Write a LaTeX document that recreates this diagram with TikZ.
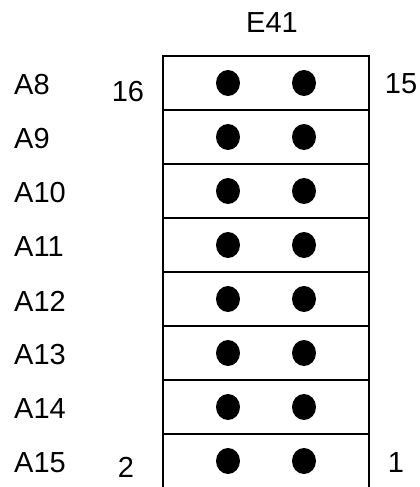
\documentclass[tikz,border=0pt]{standalone}
\usepackage{fontspec}
\setmainfont{Liberation Sans}
\begin{document}
\begin{tikzpicture}[x=1pt,y=-1pt,
  lbl/.style={font=\fontsize{29}{34}\selectfont, inner sep=0pt},
  frame/.style={line width=2pt}]
\useasboundingbox (0,0) rectangle (420,487);
% frame
\draw[frame] (163,487) -- (163,56) -- (369,56) -- (369,487);
\foreach \k in {1,...,7} {
  \draw[frame] (163,{56+54*\k}) -- (369,{56+54*\k});
}
% pins
\foreach \k in {0,...,7} {
  \fill (228,{83+54*\k}) ellipse (12 and 13);
  \fill (304,{83+54*\k}) ellipse (12 and 13);
}
% labels
\node[lbl] (title) at (272,23) {E41};
\foreach \t [count=\i from 0] in {A8,A9,A10,A11,A12,A13,A14,A15} {
  \node[lbl, anchor=west] (a\i) at (14,{85+54*\i}) {\t};
}
\node[lbl] (n16) at (128,92) {16};
\node[lbl] (n15) at (401,84) {15};
\node[lbl] (n2) at (126,467) {2};
\node[lbl] (n1) at (396,463) {1};
\end{tikzpicture}
\end{document}
